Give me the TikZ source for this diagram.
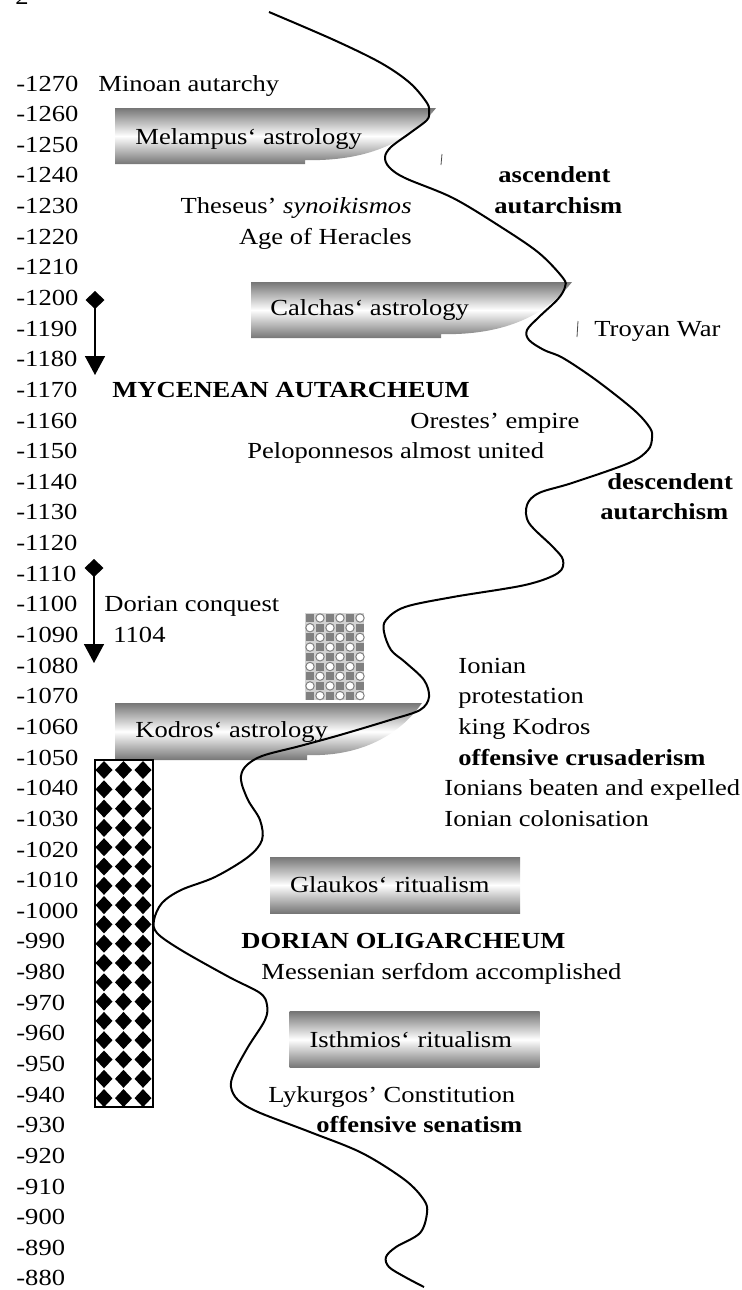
\documentclass[tikz,border=0pt]{standalone}
\usepackage{fontspec}
\setmainfont[FakeStretch=1.155]{Liberation Serif}
\usetikzlibrary{positioning,arrows.meta}
\definecolor{boxgray}{RGB}{118,118,118}
\definecolor{patgray}{RGB}{128,128,128}

\begin{document}
\begin{tikzpicture}[
      x=0.5pt, y=-0.5pt,
      font=\fontsize{11.5pt}{13pt}\selectfont,
      yearlbl/.style={anchor=base west, inner sep=0pt},
      txt/.style={anchor=base west, inner sep=0pt},
      txtbold/.style={txt, font=\fontsize{11.5pt}{13pt}\selectfont\bfseries},
      scroll/.style={top color=boxgray, bottom color=boxgray, middle color=white},
      ritual/.style={
        scroll, text width=105pt, inner xsep=10pt, inner ysep=0pt,
        minimum height=28pt, align=left
      },
      wave/.style={line width=1pt, line join=round},
      nick/.style={draw=black!70, line width=0.4pt},
      arr/.style={{Diamond[length=9pt, width=9.5pt]}-{Triangle[length=9.5pt, width=10pt]}, line width=0.75pt}
    ]
  \useasboundingbox (0,0) rectangle (742,1290);
  % page number, cut off at the top
  \node[txt] (pagenum) at (15,4) {2};

  % year scale
  \foreach \yr [count=\i from 0] in {1270,1260,...,880}
    \node[yearlbl] (yr\yr) at (16,{91+30.64*\i}) {-\yr};

  % astrology scrolls
  \shade[scroll] (115,108) -- (436,108)
    .. controls (415,135) and (380,158) .. (320,160)
    -- (305,160) -- (305,164) -- (115,164) -- cycle;
  \shade[scroll] (251,282) -- (572,282)
    .. controls (551,309) and (516,332) .. (456,334)
    -- (441,334) -- (441,338) -- (251,338) -- cycle;
  \shade[scroll] (115,703) -- (422,703)
    .. controls (403,730) and (370,753) .. (320,755)
    -- (307,755) -- (307,760) -- (115,760) -- cycle;
  \draw[nick] (442,154) -- (441,165);
  \draw[nick] (578,321) -- (577,337);

  % ritualism boxes
  \node[ritual] (glaukos) at (395,885) {Glaukos‘ ritualism};
  \node[ritual] (isthmios) at (414.5,1039.5) {Isthmios‘ ritualism};

  % Ionian block
  \fill[patgray!35] (305,613) rectangle (364,700);
  \foreach \r in {0,...,8}
    \foreach \c in {0,...,5} {
      \pgfmathtruncatemacro\odd{mod(\r+\c,2)}
      \ifnum\odd=0
        \fill[patgray] (310+10*\c,618+9.7*\r) +(-4,-4) rectangle +(4,4);
      \else
        \filldraw[fill=white, draw=patgray, line width=0.5pt] (310+10*\c,618+9.7*\r) circle[radius=4.2];
      \fi
    }

  % Dorian bar
  \draw[line width=0.6pt] (95,760) rectangle (153,1107);
  \foreach \r in {0,...,17}
    \foreach \c in {0,1,2}
      \fill (104+19.5*\c,770+19.3*\r) +(-8.5,0) -- +(0,-9) -- +(8.5,0) -- +(0,9) -- cycle;

  % the wave
  \draw[wave] plot[smooth, tension=0.55] coordinates {
    (269,12) (334,40) (381,63) (410,83) (427,103) (429,112) (427,120)
    (410,133) (391,147) (385,157) (389,167) (405,178) (453,198) (501,227)
    (539,253) (563,278) (565,287) (558,299) (539,317) (527,330) (529,340)
    (544,350) (563,358) (596,380) (634,410) (650,428) (652,438) (648,450)
    (629,463) (572,483) (539,493) (527,505) (529,523) (553,547) (563,560)
    (558,573) (525,585) (453,597) (405,607) (386,620) (384,632) (391,650)
    (405,662) (424,680) (429,697) (420,710) (390,720) (340,735) (300,746)
    (262,756) (245,767) (241,780) (248,800) (260,820) (262,840) (248,857)
    (215,877) (181,890) (162,903) (154,920) (157,933) (181,950) (229,977)
    (260,993) (267,1005) (265,1020) (248,1047) (234,1073) (231,1087)
    (238,1100) (258,1112) (310,1132) (362,1153) (405,1180) (424,1200)
    (427,1213) (420,1233) (396,1247) (386,1257) (389,1267) (405,1277)
    (424,1287)};

  % arrows
  \coordinate (mycstart) at (95,291);
  \coordinate (mycend) at (95,375);
  \coordinate (dorstart) at (94,559);
  \coordinate (dorend) at (94,663);
  \draw[arr] (mycstart) -- (mycend);
  \draw[arr] (dorstart) -- (dorend);

  % texts
  \node[txt] (minoan) at (98,0 |- yr1270.base) {Minoan autarchy};
  \node[txt] (melampus) at (135,144) {Melampus‘ astrology};
  \node[txtbold] (ascendent) at (498,0 |- yr1240.base) {ascendent};
  \node[txtbold] (ascautarch) at (494,0 |- yr1230.base) {autarchism};
  \node[txt, anchor=base east] (theseus) at (412,0 |- yr1230.base) {Theseus’ \textit{synoikismos}};
  \node[txt, anchor=base east] (heracles) at (412,0 |- yr1220.base) {Age of Heracles};
  \node[txt] (calchas) at (270,315) {Calchas‘ astrology};
  \node[txt] (troyan) at (594,0 |- yr1190.base) {Troyan War};
  \node[txtbold] (mycenean) at (112,0 |- yr1170.base) {MYCENEAN AUTARCHEUM};
  \node[txt] (orestes) at (410,0 |- yr1160.base) {Orestes’ empire};
  \node[txt] (peloponnesos) at (247,0 |- yr1150.base) {Peloponnesos almost united};
  \node[txtbold] (descendent) at (607,0 |- yr1140.base) {descendent};
  \node[txtbold] (descautarch) at (600,0 |- yr1130.base) {autarchism};
  \node[txt] (conquest) at (104,0 |- yr1100.base) {Dorian conquest};
  \node[txt] (conqyear) at (113,0 |- yr1090.base) {1104};
  \node[txt] (ionian) at (458,0 |- yr1080.base) {Ionian};
  \node[txt] (protest) at (458,0 |- yr1070.base) {protestation};
  \node[txt] (kingkodros) at (458,0 |- yr1060.base) {king Kodros};
  \node[txtbold] (crusader) at (458,0 |- yr1050.base) {offensive crusaderism};
  \node[txt] (kodros) at (135,737) {Kodros‘ astrology};
  \node[txt] (beaten) at (444,0 |- yr1040.base) {Ionians beaten and expelled};
  \node[txt] (colonis) at (444,0 |- yr1030.base) {Ionian colonisation};
  \node[txtbold] (dorolig) at (241,0 |- yr990.base) {DORIAN OLIGARCHEUM};
  \node[txt] (serfdom) at (261,0 |- yr980.base) {Messenian serfdom accomplished};
  \node[txt] (lykurgos) at (268,0 |- yr940.base) {Lykurgos’ Constitution};
  \node[txtbold] (senatism) at (316,0 |- yr930.base) {offensive senatism};
\end{tikzpicture}
\end{document}
